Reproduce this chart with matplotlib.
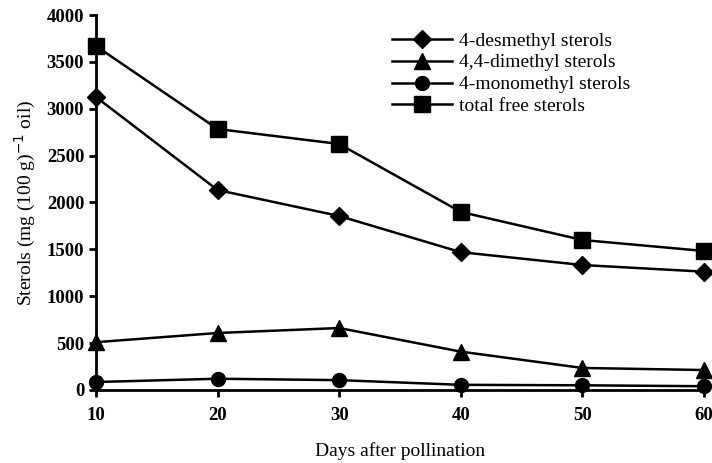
import numpy as np
import matplotlib.pyplot as plt

plt.rcParams['font.family'] = ['Liberation Serif', 'DejaVu Serif']

days = np.array([10, 20, 30, 40, 50, 60])
desmethyl = np.array([3125, 2133, 1856, 1470, 1333, 1262])
dimethyl = np.array([510, 608, 661, 409, 235, 213])
monomethyl = np.array([85, 120, 105, 55, 50, 40])
total = np.array([3669, 2784, 2624, 1899, 1600, 1483])

fig = plt.figure(figsize=(7.12, 4.63), dpi=100)
ax = fig.add_axes([0.1348, 0.1577, 0.8540, 0.8099])

kw = dict(color='black', linewidth=1.8, clip_on=False)
ax.plot(days, desmethyl, marker='D', markersize=9, label='4-desmethyl sterols', **kw)
ax.plot(days, dimethyl, marker='^', markersize=11, label='4,4-dimethyl sterols', **kw)
ax.plot(days, monomethyl, marker='o', markersize=10, label='4-monomethyl sterols', **kw)
ax.plot(days, total, marker='s', markersize=11, label='total free sterols', **kw)

ax.set_xlim(10, 60)
ax.set_ylim(0, 4000)
ax.set_xticks(days)
ax.set_yticks(np.arange(0, 4001, 500))
for s in ['top', 'right']:
    ax.spines[s].set_visible(False)
for s in ['left', 'bottom']:
    ax.spines[s].set_linewidth(2)
ax.tick_params(width=2, length=5, labelsize=13.5)
ax.tick_params(axis='x', pad=7)
for lab in ax.get_xticklabels() + ax.get_yticklabels():
    lab.set_fontweight('bold')

ax.set_xlabel('Days after pollination', fontsize=14, labelpad=13)
ax.set_ylabel('Sterols (mg (100 g)$^{-1}$ oil)', fontsize=14, labelpad=6)

ax.legend(loc='upper left', bbox_to_anchor=(0.537, 0.952), bbox_transform=fig.transFigure,
          frameon=False, fontsize=14, handlelength=3.1, handletextpad=0.36,
          labelspacing=0.22, borderpad=0)

fig.savefig('out.png', dpi=100)
